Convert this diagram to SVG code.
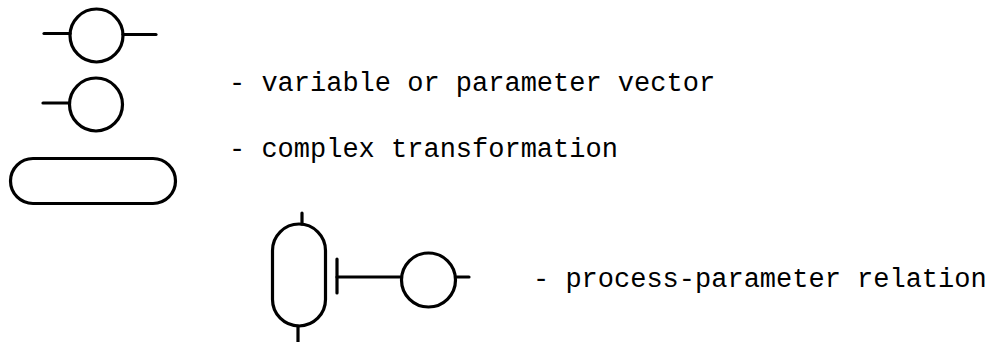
<svg xmlns="http://www.w3.org/2000/svg" width="990" height="342" viewBox="0 0 990 342">
  <style>
    .shape { fill: none; stroke: #000; stroke-width: 3.2; stroke-linecap: round; stroke-linejoin: round; }
    .lead { fill: none; stroke: #000; stroke-width: 3.2; stroke-linecap: round; }
    .label { font-family: "Liberation Mono", "DejaVu Sans Mono", monospace; font-size: 27px; fill: #000; }
  </style>
  <rect width="990" height="342" fill="#fff"/>

  <!-- legend symbol: variable with input and output -->
  <g id="var-in-out">
    <circle class="shape" cx="96.5" cy="35.5" r="26.5"/>
  </g>
  <!-- legend symbol: variable with input only -->
  <g id="var-in">
    <circle class="shape" cx="96" cy="104.5" r="26.5"/>
  </g>
  <!-- legend symbol: complex transformation -->
  <g id="transformation">
    <rect class="shape" x="10.5" y="158.5" width="165" height="45" rx="22.5"/>
  </g>
  <!-- process-parameter relation: process -->
  <g id="process">
    <rect class="shape" x="272.5" y="224" width="53" height="102" rx="26.5"/>
  </g>
  <!-- process-parameter relation: parameter -->
  <g id="parameter">
    <circle class="shape" cx="428.5" cy="280" r="27"/>
  </g>

  <g id="connectors">
    <line class="lead" x1="44" y1="33.5" x2="70" y2="33.5"/>
    <line class="lead" x1="123" y1="34.5" x2="156" y2="34.5"/>
    <line class="lead" x1="43" y1="103" x2="69.5" y2="103"/>
    <line class="lead" x1="302" y1="213" x2="302" y2="224"/>
    <line class="lead" x1="298" y1="326" x2="298" y2="342"/>
    <line class="lead" x1="337" y1="259" x2="337" y2="293"/>
    <line class="lead" x1="337" y1="277" x2="401.5" y2="277"/>
    <line class="lead" x1="455.5" y1="277" x2="469" y2="277"/>
  </g>

  <g id="labels">
    <text class="label" x="229" y="91">- variable or parameter vector</text>
    <text class="label" x="229" y="156.5">- complex transformation</text>
    <text class="label" x="533" y="286.5">- process-parameter relation</text>
  </g>
</svg>
